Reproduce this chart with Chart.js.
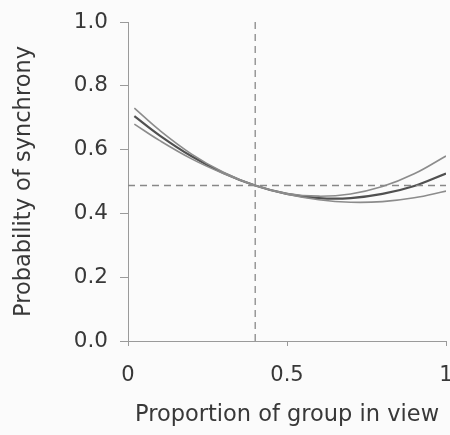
<!DOCTYPE html>
<html>
<head>
<meta charset="utf-8">
<script src="https://cdn.jsdelivr.net/npm/chart.js@4/dist/chart.umd.min.js"></script>
<style>
  html, body { margin: 0; padding: 0; background: #fbfbfb; }
  #chart { display: block; }
</style>
</head>
<body>
<canvas id="chart" width="450" height="435"></canvas>
<script>
// values
const proportion = [0.02, 0.1, 0.2, 0.3, 0.4, 0.5, 0.6, 0.7, 0.8, 0.9, 1.0];
const fitUpper = [0.73, 0.66, 0.586, 0.529, 0.4875, 0.4625, 0.454, 0.461, 0.484, 0.524, 0.58];
const fitMean = [0.705, 0.644, 0.579, 0.527, 0.4875, 0.461, 0.448, 0.448, 0.461, 0.486, 0.525];
const fitLower = [0.68, 0.628, 0.571, 0.525, 0.4875, 0.46, 0.443, 0.435, 0.437, 0.449, 0.47];

// dashed reference lines
const refProportion = 0.4;
const refProbability = 0.4875;
const xRange = [0, 1];
const yRange = [0, 1];

const FONT = 'DejaVu Sans';
const TEXT = '#383838';
const AXIS = '#9a9a9a';

function toPoints(xs, ys) {
  return xs.map((x, i) => ({ x: x, y: ys[i] }));
}

const dashed = {
  borderColor: '#888',
  borderWidth: 1.3,
  borderDash: [7, 5],
  pointRadius: 0,
  tension: 0,
  fill: false
};

new Chart(document.getElementById('chart'), {
  type: 'line',
  data: {
    datasets: [
      Object.assign({ data: [{ x: xRange[0], y: refProbability }, { x: xRange[1], y: refProbability }] }, dashed),
      Object.assign({ data: [{ x: refProportion, y: yRange[0] }, { x: refProportion, y: yRange[1] }] }, dashed),
      { data: toPoints(proportion, fitUpper), borderColor: '#8c8c8c', borderWidth: 1.6, pointRadius: 0, tension: 0.4 },
      { data: toPoints(proportion, fitLower), borderColor: '#8c8c8c', borderWidth: 1.6, pointRadius: 0, tension: 0.4 },
      { data: toPoints(proportion, fitMean), borderColor: '#505050', borderWidth: 2.2, pointRadius: 0, tension: 0.4 }
    ]
  },
  options: {
    responsive: false,
    animation: false,
    layout: { padding: { top: 22, right: 4, bottom: 0, left: 0 } },
    plugins: {
      legend: { display: false },
      tooltip: { enabled: false }
    },
    scales: {
      x: {
        type: 'linear',
        min: 0,
        max: 1,
        ticks: {
          stepSize: 0.5,
          color: TEXT,
          font: { family: FONT, size: 21 },
          padding: 17,
          maxRotation: 0,
          callback: function(value) { return String(value); }
        },
        grid: { display: true, drawOnChartArea: false, drawTicks: true, tickLength: 5, color: AXIS },
        border: { display: true, color: AXIS, width: 1 },
        title: {
          display: true,
          text: 'Proportion of group in view',
          color: TEXT,
          font: { family: FONT, size: 22.5 },
          padding: { top: 0, bottom: 6 }
        },
        afterFit: function(scale) {
          scale.height = 94;
          scale.paddingLeft = 0;
          scale.paddingRight = 0;
        }
      },
      y: {
        min: 0,
        max: 1,
        ticks: {
          stepSize: 0.2,
          color: TEXT,
          font: { family: FONT, size: 21.5 },
          padding: 12,
          callback: function(value) { return value.toFixed(1); }
        },
        grid: { display: true, drawOnChartArea: false, drawTicks: true, tickLength: 8, color: AXIS },
        border: { display: true, color: AXIS, width: 1 },
        title: {
          display: true,
          text: 'Probability of synchrony',
          color: TEXT,
          font: { family: FONT, size: 22.5 },
          padding: { top: 11, bottom: 0 }
        },
        afterFit: function(scale) {
          scale.width = 128;
          scale.paddingTop = 0;
          scale.paddingBottom = 0;
        }
      }
    }
  }
});
</script>
</body>
</html>
